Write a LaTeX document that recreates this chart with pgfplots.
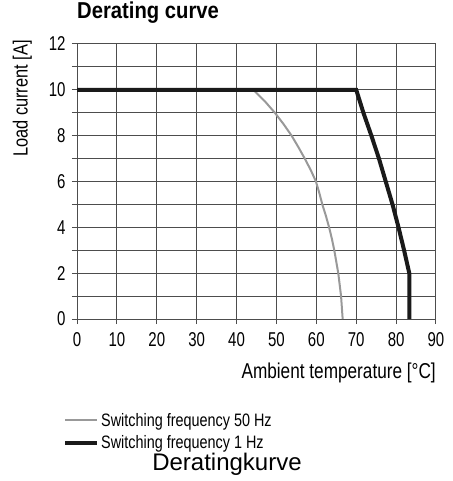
\documentclass[border=0pt]{standalone}
\usepackage{pgfplots}
\pgfplotsset{compat=1.18}
\usepackage{fontspec}
\setmainfont{Liberation Sans}
\newfontfamily\cond[FakeStretch=0.8]{Liberation Sans}
\newfontfamily\condt[FakeStretch=0.75]{Liberation Sans}
\newfontfamily\condb[FakeStretch=0.88]{Liberation Sans Bold}
\definecolor{gridc}{HTML}{4D4D4D}
\definecolor{curvegray}{HTML}{999999}
\definecolor{curveblack}{HTML}{1A1A1A}
\begin{document}
\begin{tikzpicture}
\path[use as bounding box] (-77pt,-162pt) rectangle (375pt,319pt);
\begin{axis}[
  at={(0pt,0pt)}, anchor=origin,
  scale only axis, width=359pt, height=275pt,
  xmin=0, xmax=90, ymin=0, ymax=12,
  xtick={0,10,...,90}, ytick={0,2,...,12}, minor ytick={1,3,...,11},
  grid=both,
  major grid style={gridc, line width=1pt},
  minor grid style={gridc, line width=1pt},
  axis line style={gridc, line width=1pt},
  tick style={gridc, line width=1pt},
  tick align=outside, major tick length=5pt, minor tick length=5pt,
  xtick pos=bottom, ytick pos=left,
  /pgf/number format/assume math mode=true,
  tick label style={font=\condt\fontsize{20}{21}\selectfont},
  xticklabel style={yshift=-5pt},
  yticklabel style={xshift=-3pt},
  legend style={draw=none, fill=none, at={(-17pt,-90pt)}, anchor=north west,
    font=\cond\fontsize{18}{20}\selectfont, row sep=4pt,
    legend cell align=left},
  legend image code/.code={\draw[#1] (-4pt,0pt) -- (28pt,0pt);},
]
\addplot[curvegray, line width=2pt, line join=round] coordinates {
 (0,9.95) (44.5,9.95) (47.1,9.5) (49.6,9) (51.8,8.5) (53.8,8) (55.5,7.5) (57.1,7)
 (58.6,6.5) (59.9,6) (60.75,5.5) (61.5,5) (62.4,4.5) (63.2,4) (63.9,3.5) (64.5,3)
 (65.0,2.5) (65.5,2) (65.85,1.5) (66.2,1) (66.4,0.5) (66.6,0)};
\addlegendentry{Switching frequency 50 Hz}
\addplot[curveblack, line width=4pt, line join=miter] coordinates {
 (0,10) (70,10) (71.8,9) (73.8,8) (75.7,7) (77.4,6) (79.1,5) (80.6,4) (82,3) (83.3,2) (83.3,0)};
\addlegendentry{Switching frequency 1 Hz}
\end{axis}
\node[anchor=south west, font=\condb\fontsize{23}{25}\selectfont, inner sep=0pt] at (0pt,295pt) {Derating curve};
\node[anchor=south east, rotate=90, font=\cond\fontsize{20.5}{22}\selectfont, inner sep=0pt] at (-45pt,279pt) {Load current [A]};
\node[anchor=north east, font=\cond\fontsize{21.5}{23}\selectfont, inner sep=0pt] at (359pt,-44pt) {Ambient temperature [°C]};
\node[anchor=base, font=\fontsize{24}{26}\selectfont, inner sep=0pt] at (150pt,-151pt) {Deratingkurve};
\end{tikzpicture}
\end{document}
